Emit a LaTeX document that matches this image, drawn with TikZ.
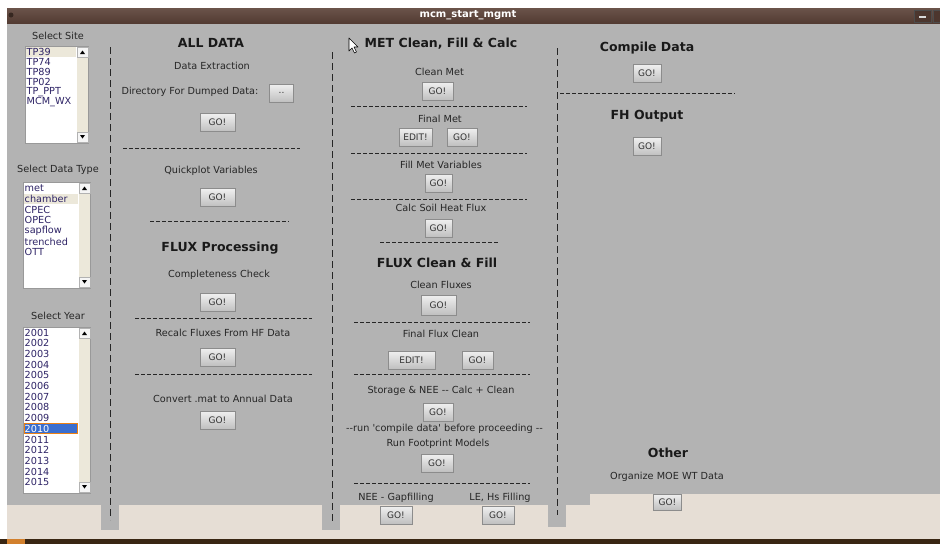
\documentclass[tikz,border=0pt]{standalone}
\usepackage{fontspec}
\setmainfont{DejaVu Sans}
\definecolor{panel}{HTML}{B3B3B3}
\definecolor{sand}{HTML}{E6DED5}
\definecolor{titlebar}{HTML}{5A4036}
\definecolor{listtext}{HTML}{2E2466}
\definecolor{trough}{HTML}{ECE8DA}
\definecolor{picked}{HTML}{3A6ECF}

\begin{document}
\begin{tikzpicture}[x=1pt,y=-1pt,
	lbl/.style={font=\fontsize{9.7}{10}\selectfont, text=black!85, inner sep=0pt},
	head/.style={font=\fontsize{12.5}{13}\selectfont\bfseries, text=black!90, inner sep=0pt},
	gobtn/.style={draw=black!45, top color=black!6, bottom color=black!25,
		font=\fontsize{9}{10}\selectfont, text=black!80, minimum width=31pt,
		minimum height=18pt, inner sep=0pt},
	item/.style={anchor=west, font=\fontsize{9.7}{10}\selectfont, text=listtext, inner sep=0pt},
	vsep/.style={dash pattern=on 7pt off 4pt, line width=0.8pt, black!85},
	hsep/.style={dash pattern=on 4pt off 2pt, line width=0.7pt, black!85}]
\useasboundingbox (0,0) rectangle (940,544);
\fill[white] (0,0) rectangle (940,544);
% window frame
\shade[top color=titlebar!90!white, bottom color=titlebar!90!black] (7,8) rectangle (940,24);
\fill[titlebar!60!black] (11,15) circle (2.5pt);
\node[font=\fontsize{10}{11}\selectfont\bfseries, text=white] (title) at (468,15.5) {mcm\_start\_mgmt};
\draw[black!70, fill=titlebar!85!black] (914,10) rectangle (931,22);
\fill[black!15] (919,15.5) rectangle (926,17.5);
\draw[black!70, fill=titlebar!85!black] (933,10) rectangle (942,22);
\fill[panel] (7,24) rectangle (940,505);
\fill[sand] (7,505) rectangle (940,539);
\fill[sand] (590,494) rectangle (940,505);
\fill[panel] (101,505) rectangle (119,530);
\fill[panel] (322,505) rectangle (340,530);
\fill[panel] (548,505) rectangle (566,527);
\fill[black!70!brown] (0,539) rectangle (940,544);
\fill[brown!70!orange] (7,539) rectangle (25,544);

% column separators
\draw[vsep] (110,47) -- (110,520);
\draw[vsep] (332,52) -- (332,522);
\draw[vsep] (557,48) -- (557,515);
\draw[hsep] (123,148) -- (300,148);
\draw[hsep] (150,221) -- (289,221);
\draw[hsep] (135,318) -- (312,318);
\draw[hsep] (135,374) -- (312,374);
\draw[hsep] (351,106) -- (527,106);
\draw[hsep] (351,153) -- (527,153);
\draw[hsep] (351,199) -- (527,199);
\draw[hsep] (380,242) -- (498,242);
\draw[hsep] (354,322) -- (530,322);
\draw[hsep] (354,374) -- (530,374);
\draw[hsep] (354,483) -- (530,483);
\draw[hsep] (560,93) -- (735,93);

% site list
\node[lbl] (siteLbl) at (58,36) {Select Site};
\draw[black!40, fill=white] (25,46) rectangle (88,143);
\fill[trough] (26,47) rectangle (76,57);
\fill[trough] (77,47) rectangle (88,142);
\draw[black!30, fill=black!4] (77,47) rectangle (88,57) (77,132) rectangle (88,142);
\fill (80,54) -- (85,54) -- (82.5,50.5) -- cycle;
\fill (80,135) -- (85,135) -- (82.5,138.5) -- cycle;
\foreach \name [count=\i from 0] in {TP39,TP74,TP89,TP02,TP\_PPT,MCM\_WX}
	\node[item] (site\i) at (26.5,52+10*\i) {\name};

% data type list
\node[lbl] (typeLbl) at (58,170) {Select Data Type};
\draw[black!40, fill=white] (23,182) rectangle (90,288);
\fill[trough] (24,194) rectangle (78,204);
\fill[trough] (79,183) rectangle (90,287);
\draw[black!30, fill=black!4] (79,183) rectangle (90,193) (79,277) rectangle (90,287);
\fill (82,190) -- (87,190) -- (84.5,186.5) -- cycle;
\fill (82,280) -- (87,280) -- (84.5,283.5) -- cycle;
\foreach \name [count=\i from 0] in {met,chamber,CPEC,OPEC,sapflow,trenched,OTT}
	\node[item] (type\i) at (24.5,188.5+10.6*\i) {\name};

% year list
\node[lbl] (yearLbl) at (58,316) {Select Year};
\draw[black!40, fill=white] (23,327) rectangle (90,493);
\fill[trough] (79,328) rectangle (90,492);
\draw[black!30, fill=black!4] (79,328) rectangle (90,338) (79,482) rectangle (90,492);
\fill (82,335) -- (87,335) -- (84.5,331.5) -- cycle;
\fill (82,485) -- (87,485) -- (84.5,488.5) -- cycle;
\draw[orange!70!brown, fill=picked] (24,423) rectangle (77,433.5);
\foreach \yr [count=\i from 0] in {2001,2002,...,2015}
	\node[item] (year\yr) at (24.5,332.5+10.7*\i) {\ifnum\yr=2010 \color{white}\fi\yr};

% all data / flux processing
\node[head] (allHead) at (211,43) {ALL DATA};
\node[lbl] (extractLbl) at (212,66) {Data Extraction};
\node[lbl] (dirLbl) at (190,92) {Directory For Dumped Data:};
\node[gobtn, minimum width=24pt] (dirBtn) at (281.5,93) {..};
\node[gobtn, minimum width=35pt] (goExtract) at (217.5,122.5) {GO!};
\node[lbl] (quickLbl) at (211,171) {Quickplot Variables};
\node[gobtn, minimum width=35pt] (goQuick) at (217.5,197.5) {GO!};
\node[head] (fluxHead) at (220,248) {FLUX Processing};
\node[lbl] (checkLbl) at (219,275) {Completeness Check};
\node[gobtn, minimum width=35pt] (goCheck) at (217.5,302.5) {GO!};
\node[lbl] (recalcLbl) at (223,333) {Recalc Fluxes From HF Data};
\node[gobtn, minimum width=35pt] (goRecalc) at (217.5,357) {GO!};
\node[lbl] (convertLbl) at (223,399) {Convert .mat to Annual Data};
\node[gobtn, minimum width=35pt] (goConvert) at (217.5,420) {GO!};

% met and flux cleaning
\draw[black, fill=white, line join=round, line width=0.6pt]
	(349,38) -- (349,51) -- (352,48) -- (354.5,53) -- (356.5,52) -- (354,47) -- (358,47) -- cycle;
\node[head] (metHead) at (441,44) {MET Clean, Fill \& Calc};
\node[lbl] (cleanMetLbl) at (439.5,72) {Clean Met};
\node[gobtn] (goCleanMet) at (437.5,91) {GO!};
\node[lbl] (finalMetLbl) at (440,119) {Final Met};
\node[gobtn, minimum width=33pt] (editMet) at (415.5,137) {EDIT!};
\node[gobtn, minimum width=30pt] (goFinalMet) at (462,137) {GO!};
\node[lbl] (fillMetLbl) at (441,165) {Fill Met Variables};
\node[gobtn, minimum width=27pt] (goFillMet) at (438.5,183) {GO!};
\node[lbl] (soilLbl) at (441,208) {Calc Soil Heat Flux};
\node[gobtn, minimum width=27pt] (goSoil) at (438.5,228) {GO!};
\node[head] (cleanHead) at (437,263) {FLUX Clean \& Fill};
\node[lbl] (cleanFluxLbl) at (441,285) {Clean Fluxes};
\node[gobtn, minimum width=35pt, minimum height=20pt] (goCleanFlux) at (438.5,305) {GO!};
\node[lbl] (finalFluxLbl) at (441,334) {Final Flux Clean};
\node[gobtn, minimum width=47pt] (editFlux) at (411.5,360) {EDIT!};
\node[gobtn] (goFinalFlux) at (477.5,360) {GO!};
\node[lbl] (storageLbl) at (441,391) {Storage \& NEE -{}- Calc + Clean};
\node[gobtn, minimum width=30pt] (goStorage) at (438,412) {GO!};
\node[lbl] (noteLbl) at (444.5,429) {-{}-run \textquotesingle compile data\textquotesingle{} before proceeding -{}-};
\node[lbl] (footLbl) at (438,444) {Run Footprint Models};
\node[gobtn, minimum width=32pt] (goFoot) at (437,463) {GO!};
\node[lbl] (gapLbl) at (396,498) {NEE - Gapfilling};
\node[lbl] (leLbl) at (500,498) {LE, Hs Filling};
\node[gobtn, minimum width=32pt] (goGap) at (396,515) {GO!};
\node[gobtn, minimum width=32pt] (goLE) at (498,515) {GO!};

% compile, output, other
\node[head] (compileHead) at (647,48) {Compile Data};
\node[gobtn, minimum width=28pt] (goCompile) at (647,73.5) {GO!};
\node[head] (fhHead) at (647,116) {FH Output};
\node[gobtn, minimum width=28pt] (goFH) at (647,146.5) {GO!};
\node[head] (otherHead) at (668,453) {Other};
\node[lbl] (moeLbl) at (667,477) {Organize MOE WT Data};
\node[gobtn, minimum width=28pt, minimum height=16pt] (goMoe) at (667.5,502) {GO!};
\end{tikzpicture}
\end{document}
